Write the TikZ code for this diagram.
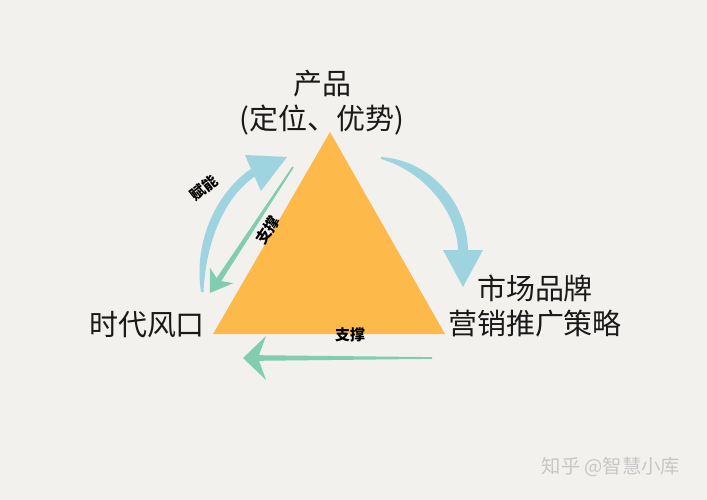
\documentclass[tikz,border=0pt]{standalone}
\usepackage{fontspec}
\newfontfamily\cjk{Noto Sans CJK SC}
\usetikzlibrary{calc}
\definecolor{paper}{HTML}{F2F1EE}
\definecolor{tri}{HTML}{FDBA4B}
\definecolor{skyarrow}{HTML}{9ED4DF}
\definecolor{mintarrow}{HTML}{82CDB2}

\begin{document}
\begin{tikzpicture}[x=0.02cm,y=-0.02cm,
    corner/.style={font=\cjk\fontsize{16.5}{20}\selectfont, text=black!90, align=center, inner sep=0pt},
    tag/.style={font=\cjk\bfseries\fontsize{8.5}{10}\selectfont, text=black, inner sep=0pt}]
	% Paper background
	\fill[paper] (0,0) rectangle (707,500);
	
	% Draw the triangle
	\coordinate (top) at (330,132);
	\coordinate (right) at (445,334);
	\coordinate (left) at (213,334);
	\fill[tri] (top) -- (right) -- (left) -- cycle;
	
	% Corner labels
	\node[corner] (product) at (322,103) {产品\\(定位、优势)};
	\node[corner] (market) at (535,306) {市场品牌\\营销推广策略};
	\node[corner] (era) at (147,325) {时代风口};
	
	% Blue arc, product to market
	\fill[skyarrow] (381,157) .. controls (428,160) and (467,200) .. (468,250)
		-- (483,250) -- (463,287) -- (443,250) -- (458,250)
		.. controls (457,212) and (425,172) .. (381,159) -- cycle;
	
	% Blue arc, era to product
	\fill[skyarrow] (201,292) .. controls (193,240) and (218,191) .. (251,169)
		-- (245,155) -- (287,157) -- (261,191) -- (254.6,176.6)
		.. controls (225,197) and (206,240) .. (203.5,292) -- cycle;
	
	% Green arrow along the left side
	\coordinate (sideA) at (293,167);
	\coordinate (sideB) at (218,281);
	\fill[mintarrow] ($(sideA)!0.5pt!90:(sideB)$) -- ($(sideB)!1.6pt!-90:(sideA)$)
		-- ($(sideB)!1.6pt!90:(sideA)$) -- ($(sideA)!0.5pt!-90:(sideB)$) -- cycle;
	\fill[mintarrow] (210,293) -- (209.9,267.8) -- (218.3,280.5) -- (233.2,283.2) -- cycle;
	
	% Green arrow under the base
	\coordinate (baseA) at (432,358);
	\coordinate (baseB) at (258,358);
	\fill[mintarrow] ($(baseA)!0.5pt!90:(baseB)$) -- ($(baseB)!1.6pt!-90:(baseA)$)
		-- ($(baseB)!1.6pt!90:(baseA)$) -- ($(baseA)!0.5pt!-90:(baseB)$) -- cycle;
	\fill[mintarrow] (243,358) -- (266,336) -- (258,358) -- (266,380) -- cycle;
	
	% Arrow labels
	\node[tag, rotate=38] (empower) at (204,188) {赋能};
	\node[tag, rotate=57] (propside) at (268,230) {支撑};
	\node[tag] (propbase) at (350,335) {支撑};
	
	% Watermark
	\node[font=\cjk\fontsize{11}{13}\selectfont, text=black!22, inner sep=0pt] (mark) at (611,467) {知乎 @智慧小库};
\end{tikzpicture}
\end{document}
